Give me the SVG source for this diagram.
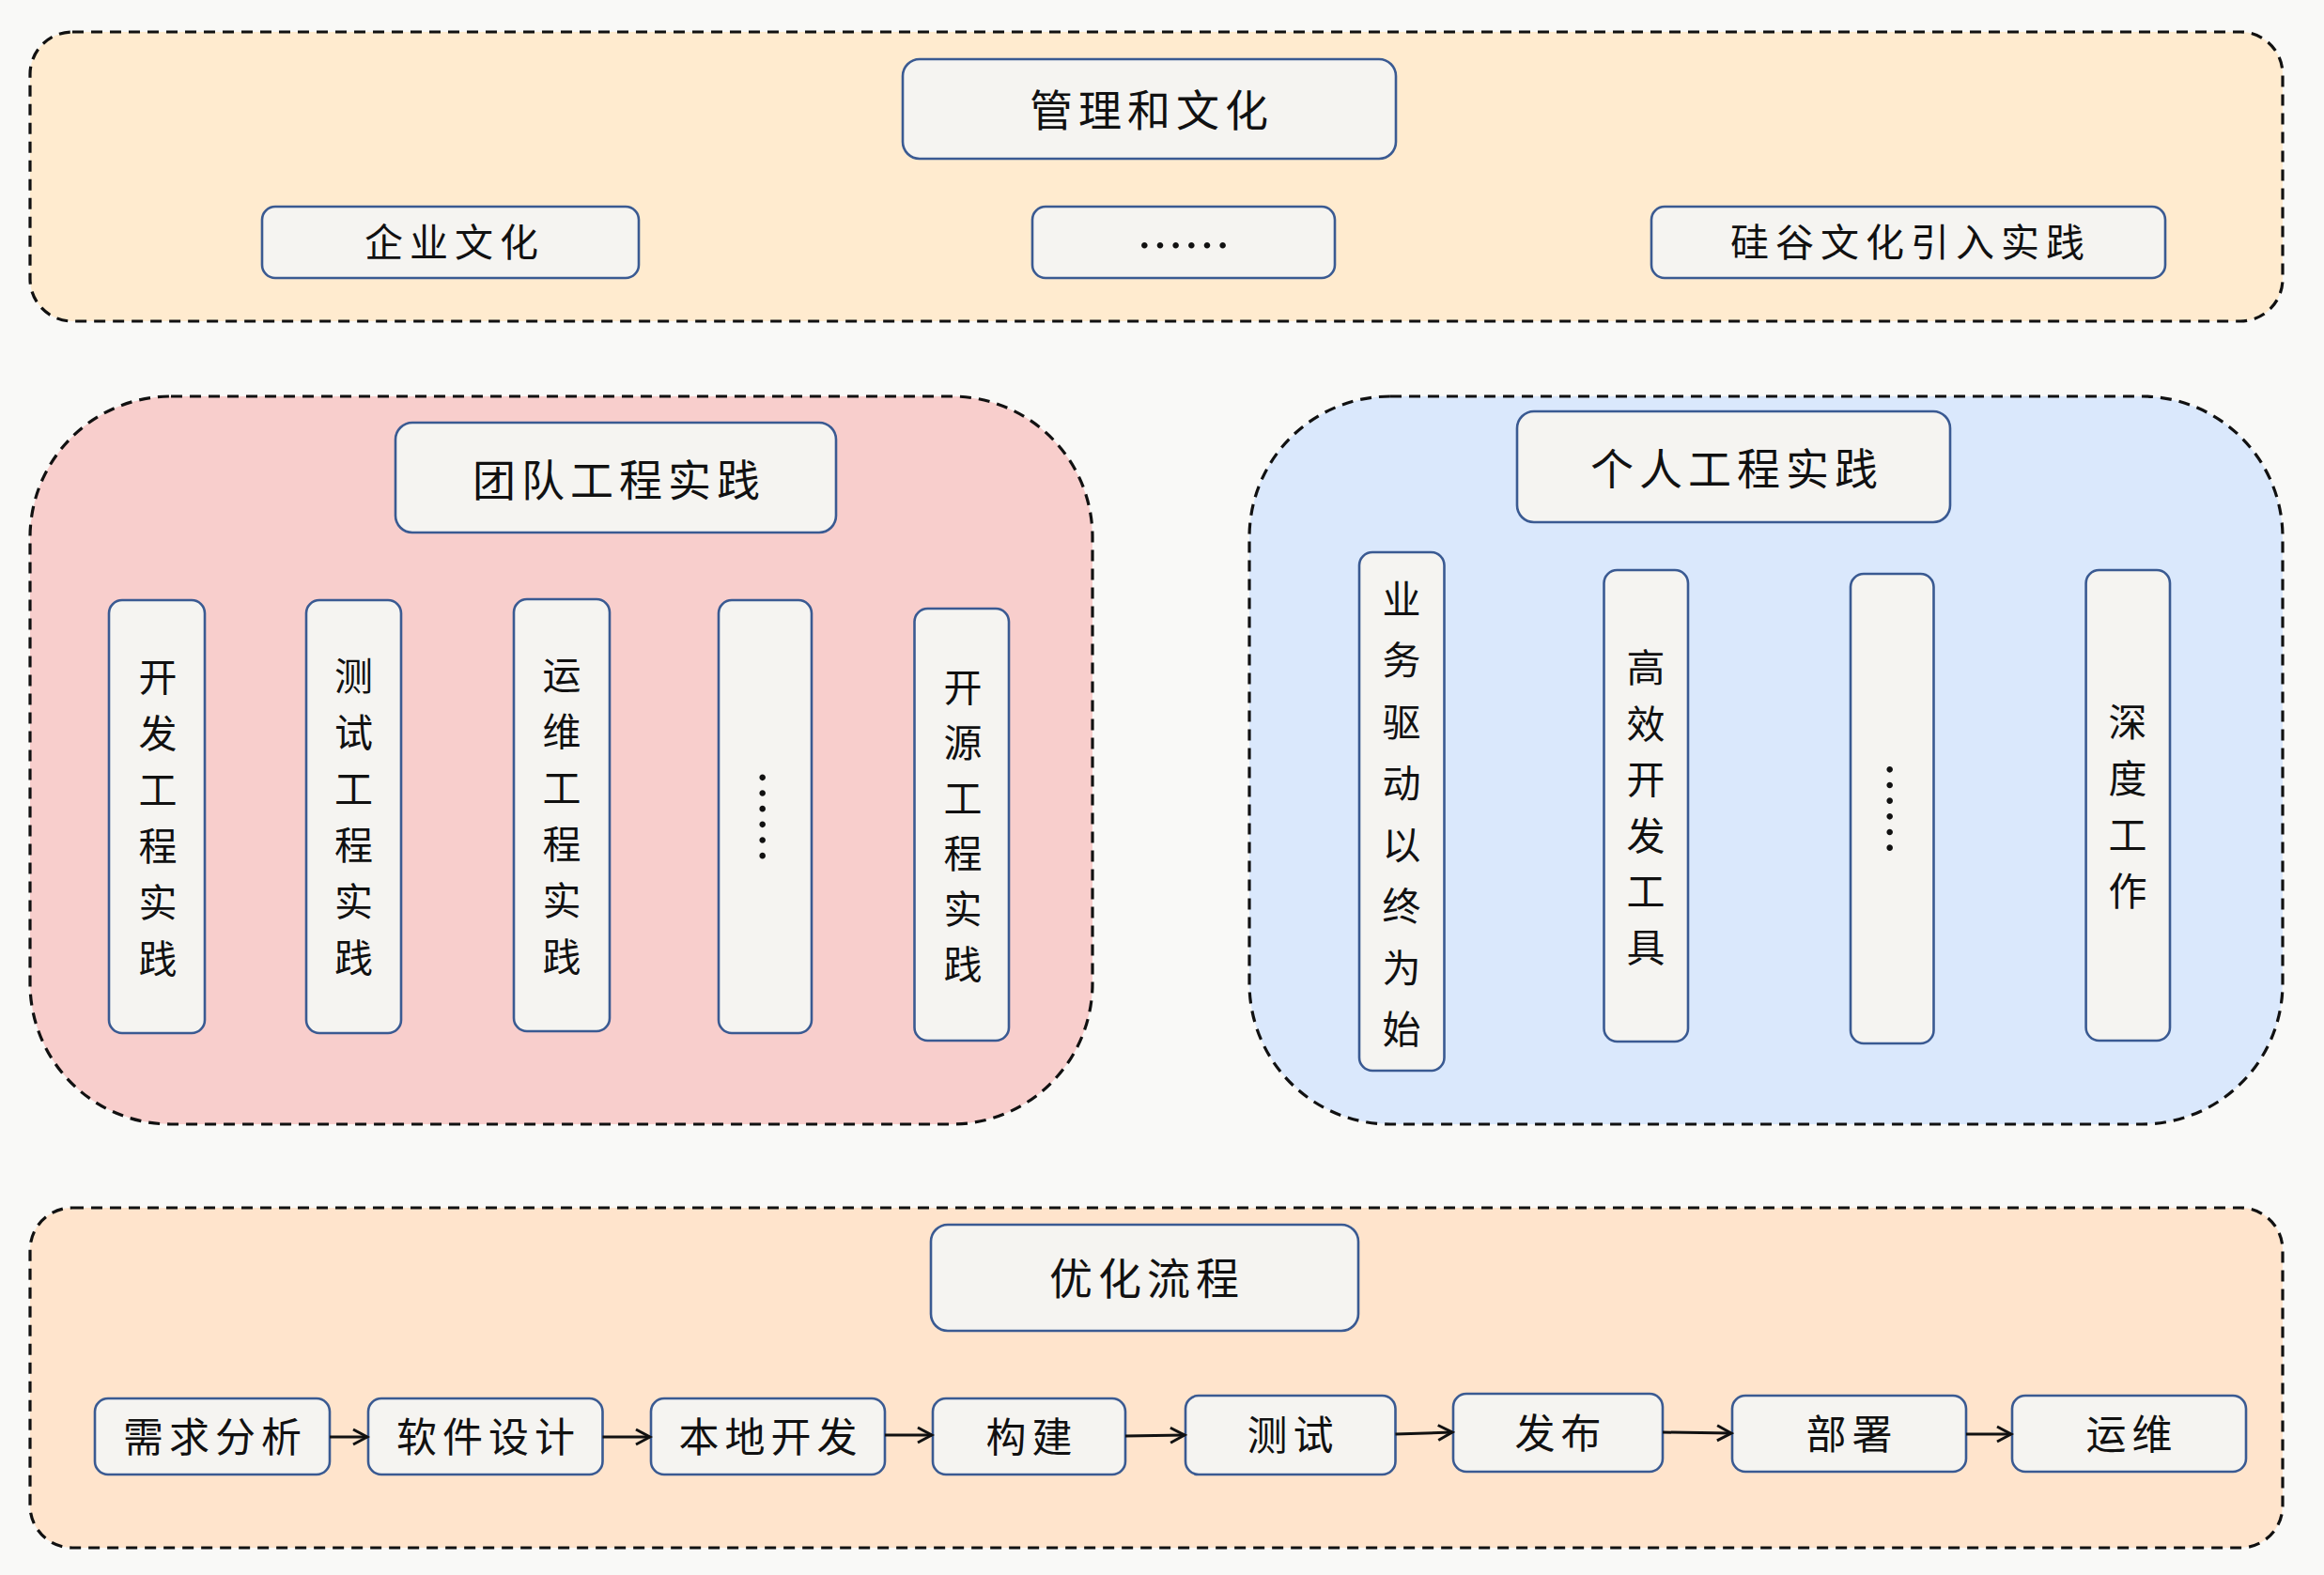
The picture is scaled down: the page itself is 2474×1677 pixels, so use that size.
<svg xmlns="http://www.w3.org/2000/svg" width="2474" height="1677" viewBox="0 0 2474 1677">
<defs>
<style>
.bg{fill:#f9f9f7}
.cont{stroke:#111;stroke-width:3.2;stroke-dasharray:12 8}
.box{fill:#f5f4f1;stroke:#3a5a92;stroke-width:2.6}
.t{font-family:"Noto Sans CJK SC","Noto Sans CJK JP",sans-serif;fill:#111;text-anchor:middle;dominant-baseline:central}
.up{transform:translateY(-3px)}
.tt{font-size:46px;letter-spacing:6px}
.tn{font-size:41px;letter-spacing:7px}
.tf{font-size:43px;letter-spacing:6px}
.tv{font-size:41px}
.dots{font-size:50px}
.conn{stroke:#111;stroke-width:3;fill:none}
</style>
<marker id="arr" markerUnits="userSpaceOnUse" markerWidth="20" markerHeight="20" viewBox="-17 -10 20 20" refX="0" refY="0" orient="auto">
<path d="M-15,-8 L0,0 L-15,8" fill="none" stroke="#111" stroke-width="3"/>
</marker>
</defs>
<rect class="bg" x="0" y="0" width="2474" height="1677"/>

<g id="mgmt-section">
<rect class="cont" x="32" y="34" width="2398" height="308" rx="45" fill="#ffebcf"/>
<g id="mgmt-title"><rect class="box" x="961" y="63" width="525" height="106" rx="18"/><text class="t tt up" x="1226" y="117">管理和文化</text></g>
<g id="corp-culture"><rect class="box" x="279" y="220" width="401" height="76" rx="14"/><text class="t tn up" x="484" y="258">企业文化</text></g>
<g id="mgmt-more"><rect class="box" x="1099" y="220" width="322" height="76" rx="14"/><text class="t dots" x="1260" y="258">……</text></g>
<g id="sv-culture"><rect class="box" x="1758" y="220" width="547" height="76" rx="14"/><text class="t tn up" x="2034" y="258">硅谷文化引入实践</text></g>
</g>

<g id="team-section">
<rect class="cont" x="32" y="422" width="1131" height="775" rx="150" fill="#f8cecc"/>
<g id="team-title"><rect class="box" x="421" y="450" width="469" height="117" rx="18"/><text class="t tt up" x="659" y="511">团队工程实践</text></g>
<g id="dev-eng"><rect class="box" x="116" y="639" width="102" height="461" rx="14"/>
<text class="t tv up"><tspan x="168" y="721">开</tspan><tspan x="168" y="781">发</tspan><tspan x="168" y="841">工</tspan><tspan x="168" y="901">程</tspan><tspan x="168" y="961">实</tspan><tspan x="168" y="1021">践</tspan></text></g>
<g id="test-eng"><rect class="box" x="326" y="639" width="101" height="461" rx="14"/>
<text class="t tv up"><tspan x="376.5" y="720">测</tspan><tspan x="376.5" y="780">试</tspan><tspan x="376.5" y="840">工</tspan><tspan x="376.5" y="900">程</tspan><tspan x="376.5" y="960">实</tspan><tspan x="376.5" y="1020">践</tspan></text></g>
<g id="ops-eng"><rect class="box" x="547" y="638" width="102" height="460" rx="14"/>
<text class="t tv up"><tspan x="598" y="719">运</tspan><tspan x="598" y="779">维</tspan><tspan x="598" y="839">工</tspan><tspan x="598" y="899">程</tspan><tspan x="598" y="959">实</tspan><tspan x="598" y="1019">践</tspan></text></g>
<g id="team-more"><rect class="box" x="765" y="639" width="99" height="461" rx="14"/>
<text class="t dots" x="814.5" y="869.5" transform="rotate(90 814.5 869.5)">……</text></g>
<g id="oss-eng"><rect class="box" x="973.5" y="648" width="100.5" height="460" rx="14"/>
<text class="t tv up"><tspan x="1025" y="732">开</tspan><tspan x="1025" y="791">源</tspan><tspan x="1025" y="850">工</tspan><tspan x="1025" y="909">程</tspan><tspan x="1025" y="968">实</tspan><tspan x="1025" y="1027">践</tspan></text></g>
</g>

<g id="personal-section">
<rect class="cont" x="1330" y="422" width="1100" height="775" rx="150" fill="#dae8fc"/>
<g id="personal-title"><rect class="box" x="1615" y="438" width="461" height="118" rx="18"/><text class="t tt up" x="1849" y="499">个人工程实践</text></g>
<g id="biz-driven"><rect class="box" x="1447" y="588" width="90.5" height="552" rx="14"/>
<text class="t tv up"><tspan x="1492" y="638">业</tspan><tspan x="1492" y="703">务</tspan><tspan x="1492" y="769">驱</tspan><tspan x="1492" y="834">动</tspan><tspan x="1492" y="900">以</tspan><tspan x="1492" y="965">终</tspan><tspan x="1492" y="1031">为</tspan><tspan x="1492" y="1096">始</tspan></text></g>
<g id="dev-tools"><rect class="box" x="1707.5" y="607" width="89.5" height="502" rx="14"/>
<text class="t tv up"><tspan x="1752" y="711">高</tspan><tspan x="1752" y="771">效</tspan><tspan x="1752" y="830">开</tspan><tspan x="1752" y="890">发</tspan><tspan x="1752" y="949">工</tspan><tspan x="1752" y="1009">具</tspan></text></g>
<g id="personal-more"><rect class="box" x="1970" y="611" width="88.5" height="500" rx="14"/>
<text class="t dots" x="2014.5" y="861" transform="rotate(90 2014.5 861)">……</text></g>
<g id="deep-work"><rect class="box" x="2220.6" y="607" width="89.4" height="501" rx="14"/>
<text class="t tv up"><tspan x="2265" y="769">深</tspan><tspan x="2265" y="829">度</tspan><tspan x="2265" y="889">工</tspan><tspan x="2265" y="949">作</tspan></text></g>
</g>

<g id="process-section">
<rect class="cont" x="32" y="1286" width="2398" height="362" rx="45" fill="#ffe4cc"/>
<g id="process-title"><rect class="box" x="991" y="1304" width="455" height="113" rx="18"/><text class="t tt up" x="1221" y="1361">优化流程</text></g>
<g id="req"><rect class="box" x="101" y="1489" width="250" height="81" rx="14"/><text class="t tf up" x="229" y="1530">需求分析</text></g>
<g id="design"><rect class="box" x="392" y="1489" width="249.5" height="81" rx="14"/><text class="t tf up" x="520" y="1530">软件设计</text></g>
<g id="local-dev"><rect class="box" x="693" y="1489" width="249" height="81" rx="14"/><text class="t tf up" x="820.5" y="1530">本地开发</text></g>
<g id="build"><rect class="box" x="993" y="1489" width="205" height="81" rx="14"/><text class="t tf up" x="1098.5" y="1530">构建</text></g>
<g id="test"><rect class="box" x="1262" y="1486" width="223.5" height="84" rx="14"/><text class="t tf up" x="1376.5" y="1528">测试</text></g>
<g id="release"><rect class="box" x="1547" y="1484" width="223" height="83" rx="14"/><text class="t tf up" x="1661.5" y="1525.5">发布</text></g>
<g id="deploy"><rect class="box" x="1844" y="1486" width="249" height="81" rx="14"/><text class="t tf up" x="1971.5" y="1526.5">部署</text></g>
<g id="ops"><rect class="box" x="2142" y="1486" width="249" height="81" rx="14"/><text class="t tf up" x="2269.5" y="1526.5">运维</text></g>
</g>

<g id="connectors">
<line class="conn" x1="351" y1="1530" x2="391" y2="1530" marker-end="url(#arr)"/>
<line class="conn" x1="641.5" y1="1530" x2="692" y2="1530" marker-end="url(#arr)"/>
<line class="conn" x1="942" y1="1528" x2="992" y2="1528" marker-end="url(#arr)"/>
<line class="conn" x1="1198" y1="1529" x2="1261" y2="1528" marker-end="url(#arr)"/>
<line class="conn" x1="1485.5" y1="1527" x2="1546" y2="1525" marker-end="url(#arr)"/>
<line class="conn" x1="1770" y1="1525" x2="1843" y2="1526" marker-end="url(#arr)"/>
<line class="conn" x1="2093" y1="1527" x2="2141" y2="1527" marker-end="url(#arr)"/>
</g>
</svg>
